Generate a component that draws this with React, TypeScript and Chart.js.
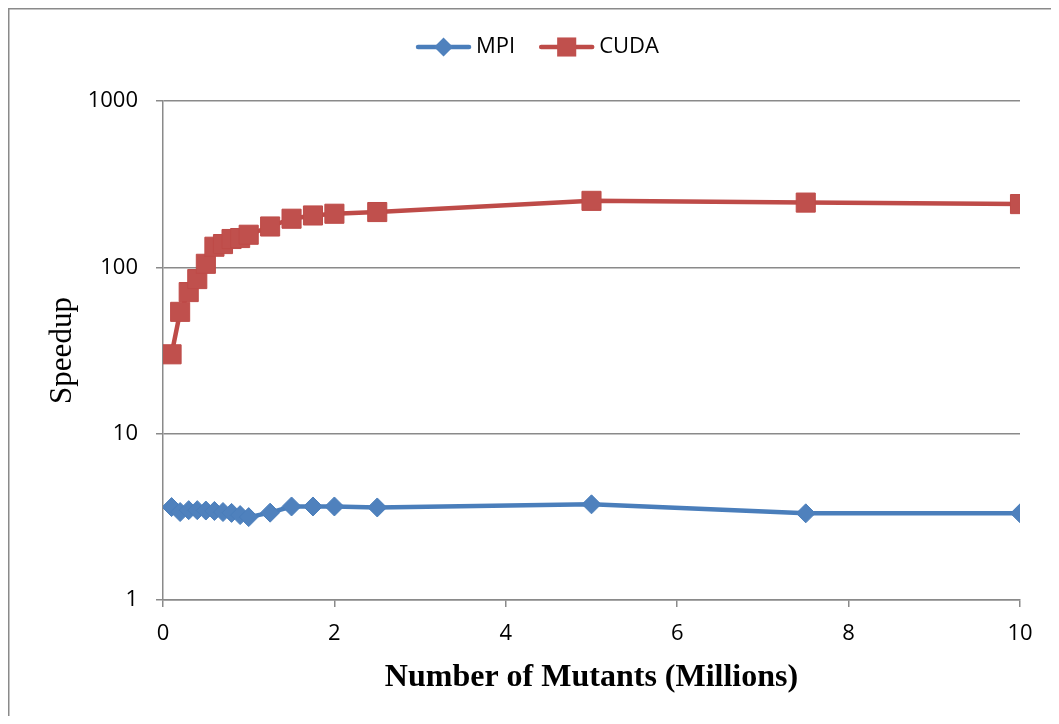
import { useEffect, useRef } from 'react';
import { Chart, registerables } from 'chart.js';

Chart.register(...registerables);

// ---- data ----
const mutants = [0.1, 0.2, 0.3, 0.4, 0.5, 0.6, 0.7, 0.8, 0.9, 1.0, 1.25, 1.5, 1.75, 2.0, 2.5, 5, 7.5, 10];
const mpiSpeedup = [3.62, 3.38, 3.47, 3.47, 3.45, 3.43, 3.38, 3.34, 3.24, 3.15, 3.35, 3.65, 3.65, 3.65, 3.6, 3.76, 3.32, 3.32];
const cudaSpeedup = [30, 54, 71, 85, 105, 133, 138, 148, 150, 157, 176, 196, 205, 210, 215, 251, 245, 240];
const seriesNames = ['MPI', 'CUDA'];
const yTicks = [1, 10, 100, 1000];
const xTicks = [0, 2, 4, 6, 8, 10];
const xTitle = 'Number of Mutants (Millions)';
const yTitle = 'Speedup';

const W = 1043;
const H = 708;
const GRID = '#8a8a8a';
const TICK_FONT = { family: "'Open Sans', 'Noto Sans', sans-serif", size: 22 };

export default function App() {
  const ref = useRef<HTMLCanvasElement>(null);

  useEffect(() => {
    if (!ref.current) return;

    const framePlugin = {
      id: 'frame',
      beforeDraw(chart: any) {
        const ctx = chart.ctx;
        ctx.save();
        ctx.strokeStyle = GRID;
        ctx.lineWidth = 1.5;
        ctx.beginPath();
        ctx.moveTo(0.75, H);
        ctx.lineTo(0.75, 0.75);
        ctx.lineTo(W, 0.75);
        ctx.stroke();
        ctx.restore();
      },
    };

    const legendPlugin = {
      id: 'lineLegend',
      afterDraw(chart: any) {
        const ctx = chart.ctx;
        ctx.save();
        ctx.font = "22px 'Open Sans', 'Noto Sans', sans-serif";
        const lineLen = 55;
        const gapText = 5;
        const gapItem = 24;
        const items = chart.data.datasets.map((ds: any) => ({
          label: ds.label,
          color: ds.borderColor,
          fill: ds.pointBackgroundColor,
          style: ds.pointStyle,
          r: ds.pointRadius,
          tw: ctx.measureText(ds.label).width,
        }));
        let total = 0;
        items.forEach((it: any, i: number) => {
          total += lineLen + gapText + it.tw + (i < items.length - 1 ? gapItem : 0);
        });
        let x = 529.5 - total / 2;
        const cy = 39;
        items.forEach((it: any) => {
          ctx.strokeStyle = it.color;
          ctx.lineWidth = 4.5;
          ctx.lineCap = 'round';
          ctx.beginPath();
          ctx.moveTo(x + 2, cy);
          ctx.lineTo(x + lineLen - 2, cy);
          ctx.stroke();
          const mx = x + lineLen / 2;
          ctx.fillStyle = it.fill;
          ctx.beginPath();
          if (it.style === 'rectRot') {
            ctx.moveTo(mx - it.r, cy);
            ctx.lineTo(mx, cy - it.r);
            ctx.lineTo(mx + it.r, cy);
            ctx.lineTo(mx, cy + it.r);
            ctx.closePath();
          } else {
            const s = Math.SQRT1_2 * it.r;
            ctx.rect(mx - s, cy - s, 2 * s, 2 * s);
          }
          ctx.fill();
          ctx.fillStyle = '#000';
          ctx.textAlign = 'left';
          ctx.textBaseline = 'middle';
          ctx.fillText(it.label, x + lineLen + gapText, cy);
          x += lineLen + gapText + it.tw + gapItem;
        });
        ctx.restore();
      },
    };

    const chart = new Chart(ref.current, {
      type: 'line',
      data: {
        datasets: [
          {
            label: seriesNames[0],
            data: mutants.map((m, i) => ({ x: m, y: mpiSpeedup[i] })),
            borderColor: '#4A7EBB',
            backgroundColor: '#4A7EBB',
            pointBackgroundColor: '#4F81BD',
            pointBorderColor: '#4A7EBB',
            pointBorderWidth: 1,
            pointStyle: 'rectRot',
            pointRadius: 9.5,
            borderWidth: 4.5,
            borderJoinStyle: 'round',
            borderCapStyle: 'round',
            tension: 0,
          },
          {
            label: seriesNames[1],
            data: mutants.map((m, i) => ({ x: m, y: cudaSpeedup[i] })),
            borderColor: '#BE4B48',
            backgroundColor: '#BE4B48',
            pointBackgroundColor: '#C0504D',
            pointBorderColor: '#BE4B48',
            pointBorderWidth: 1,
            pointStyle: 'rect',
            pointRadius: 13.5,
            borderWidth: 4.5,
            borderJoinStyle: 'round',
            borderCapStyle: 'round',
            tension: 0,
          },
        ],
      },
      options: {
        responsive: false,
        animation: false,
        layout: { padding: 0 },
        plugins: {
          legend: { display: false },
          tooltip: { enabled: false },
        },
        scales: {
          x: {
            type: 'linear',
            min: 0,
            max: 10,
            afterBuildTicks: (s: any) => {
              s.ticks = xTicks.map((v) => ({ value: v }));
            },
            afterFit: (s: any) => {
              s.height = 116;
              s.paddingRight = 31;
              s.paddingLeft = 0;
            },
            grid: {
              drawOnChartArea: false,
              drawTicks: true,
              tickLength: 7,
              tickColor: GRID,
              lineWidth: 1.5,
              color: GRID,
            },
            border: { display: true, color: GRID, width: 1.5 },
            ticks: {
              font: TICK_FONT,
              color: '#000',
              padding: 14,
              maxRotation: 0,
              callback: (v: any) => String(v),
            },
            title: {
              display: true,
              text: xTitle,
              color: '#000',
              font: { family: "'Liberation Serif', 'Times New Roman', serif", size: 32, weight: 'bold' },
              padding: { top: 0, bottom: 19 },
            },
          },
          y: {
            type: 'logarithmic',
            min: 1,
            max: 1000,
            afterBuildTicks: (s: any) => {
              s.ticks = yTicks.map((v) => ({ value: v }));
            },
            afterFit: (s: any) => {
              s.width = 155;
              s.paddingTop = 93;
            },
            grid: {
              drawOnChartArea: true,
              drawTicks: true,
              tickLength: 7,
              tickColor: GRID,
              color: GRID,
              lineWidth: 1.5,
            },
            border: { display: true, color: GRID, width: 1.5 },
            ticks: {
              font: TICK_FONT,
              color: '#000',
              padding: 18,
              callback: (v: any) => String(v),
            },
            title: {
              display: true,
              text: yTitle,
              color: '#000',
              font: { family: "'Liberation Serif', 'Times New Roman', serif", size: 31, weight: 'normal' },
              padding: { top: 36, bottom: 0 },
            },
          },
        },
      },
      plugins: [framePlugin, legendPlugin],
    } as any);

    return () => chart.destroy();
  }, []);

  return (
    <div style={{ width: W, height: H }}>
      <canvas ref={ref} width={W} height={H} style={{ display: 'block' }} />
    </div>
  );
}
